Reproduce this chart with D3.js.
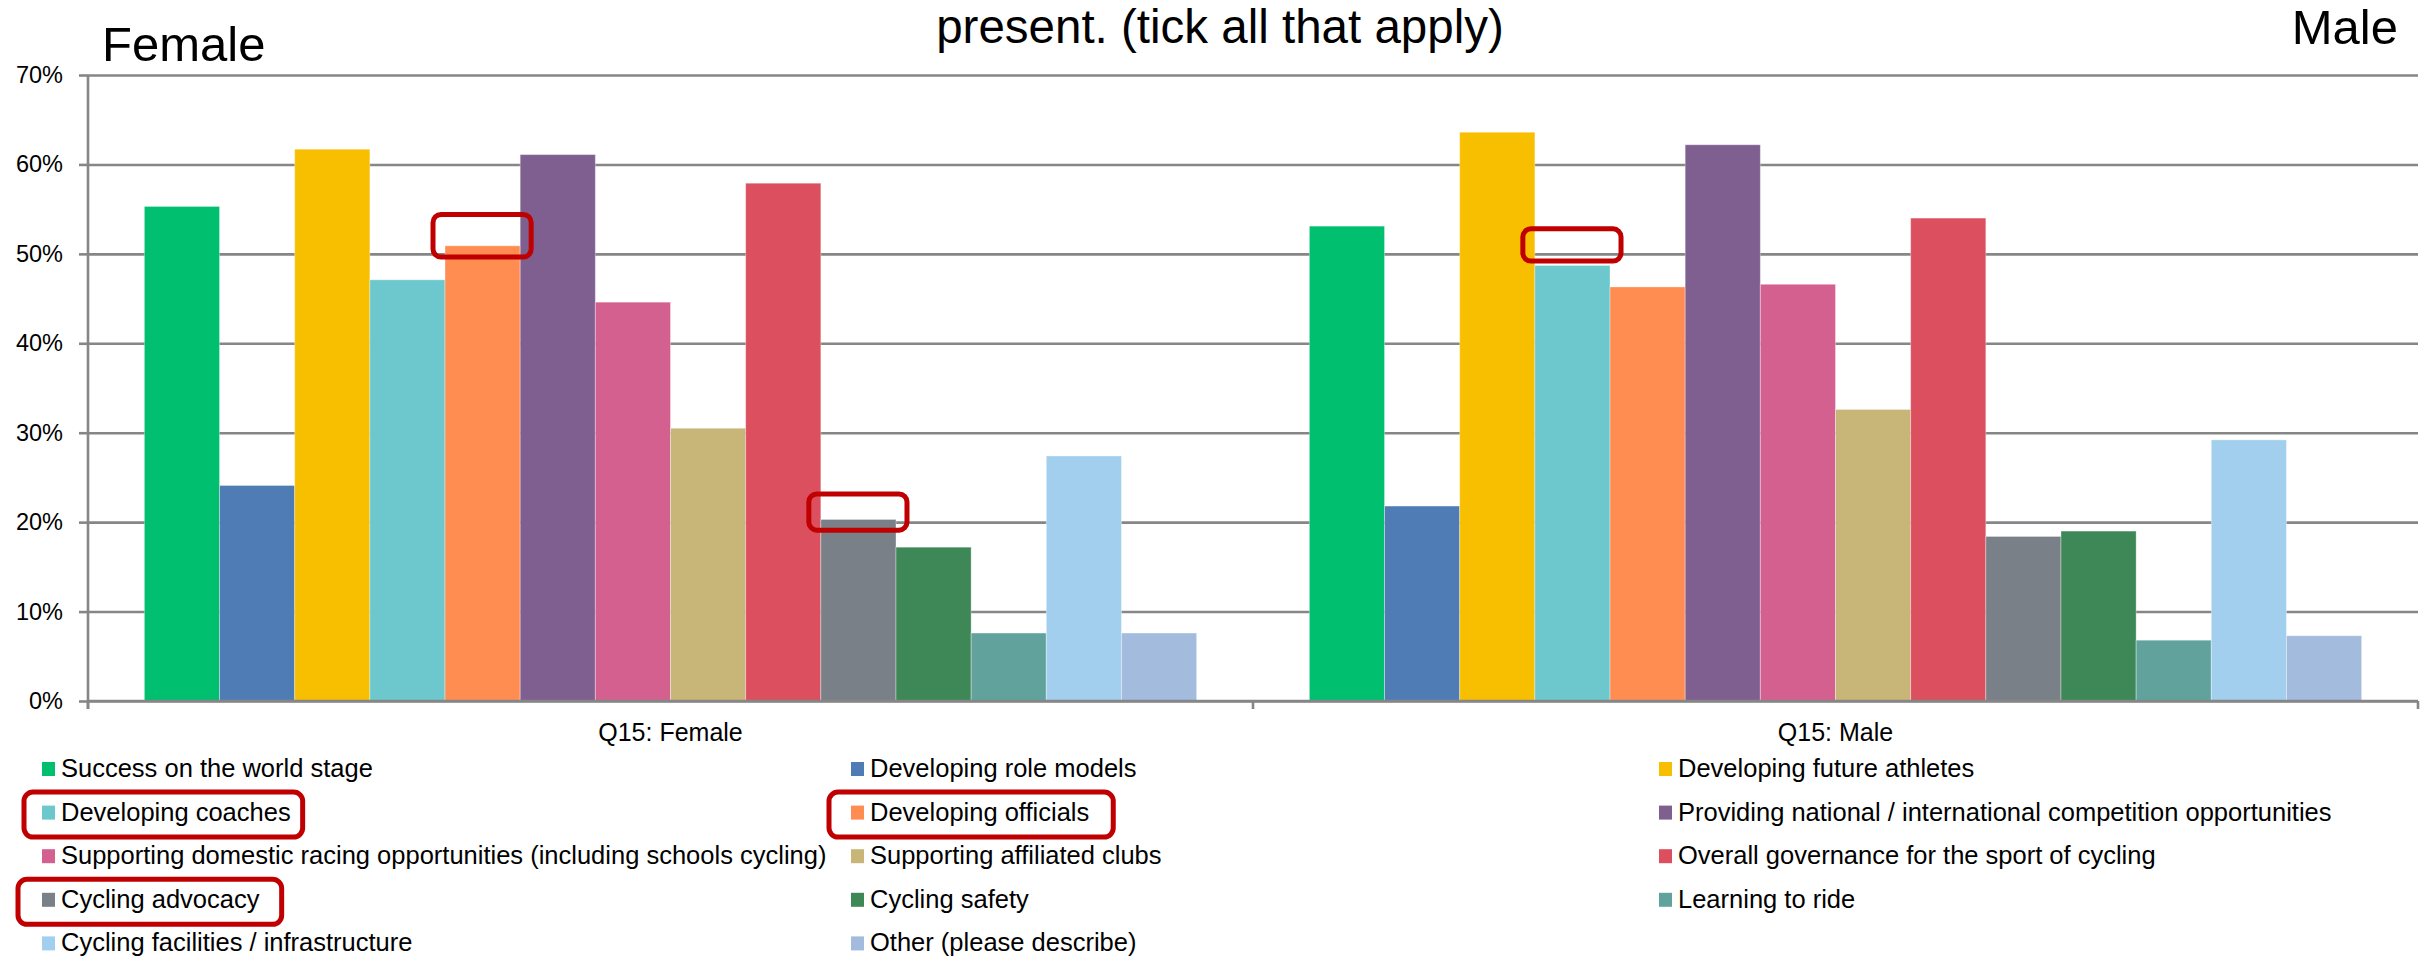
<!DOCTYPE html>
<html>
<head>
<meta charset="utf-8">
<script src="https://cdn.jsdelivr.net/npm/d3@7"></script>
<style>
  html, body { margin: 0; padding: 0; background: #ffffff; }
  svg { display: block; font-family: "Liberation Sans", Arial, sans-serif; }
</style>
</head>
<body>
<svg id="chart" width="2435" height="956"></svg>
<script>
// ---------------- data ----------------
const categories = ["Q15: Female", "Q15: Male"];
const seriesNames = [
  "Success on the world stage",
  "Developing role models",
  "Developing future athletes",
  "Developing coaches",
  "Developing officials",
  "Providing national / international competition opportunities",
  "Supporting domestic racing opportunities (including schools cycling)",
  "Supporting affiliated clubs",
  "Overall governance for the sport of cycling",
  "Cycling advocacy",
  "Cycling safety",
  "Learning to ride",
  "Cycling facilities / infrastructure",
  "Other (please describe)"
];
const femaleValues = [0.553, 0.241, 0.617, 0.471, 0.509, 0.611, 0.446, 0.305, 0.579, 0.203, 0.172, 0.076, 0.274, 0.076];
const maleValues   = [0.531, 0.218, 0.636, 0.487, 0.463, 0.622, 0.466, 0.326, 0.540, 0.184, 0.190, 0.068, 0.292, 0.073];
const seriesColors = ["#00BF6F", "#4F7CB5", "#F8BE00", "#6CC8CC", "#FF8C50", "#7E5F8F", "#D4608F",
                      "#C8B679", "#DC4F5E", "#7A8088", "#3E8756", "#61A39C", "#A2CFEE", "#A3BBDD"];
const yTicks = [0, 0.1, 0.2, 0.3, 0.4, 0.5, 0.6, 0.7];
const titleText = "present. (tick all that apply)";
const leftLabel = "Female";
const rightLabel = "Male";
// highlight annotations: [category index, series index, upper value, lower value]
const barHighlights = [[0, 4, 0.544, 0.4965], [0, 9, 0.2315, 0.191], [1, 3, 0.528, 0.492]];
// legend highlights: [series index, left pad, right pad]
const legendHighlights = [[3, 18, 12], [4, 22, 24], [9, 24, 22]];

const values = [femaleValues, maleValues];

// ---------------- layout ----------------
const svg = d3.select("#chart");
const plotLeft = 88, plotRight = 2418, plotTop = 75, plotBottom = 701;
const gridColor = "#868686";

const x0 = d3.scaleBand().domain(categories).range([plotLeft, plotRight]).paddingInner(0).paddingOuter(0);
const x1 = d3.scaleBand().domain(d3.range(seriesNames.length)).range([0, x0.bandwidth()])
  .paddingInner(0).paddingOuter(0.75);
const y = d3.scaleLinear().domain([0, 0.7]).range([plotBottom, plotTop]);

// gridlines
const grid = svg.append("g").attr("transform", `translate(${plotLeft},0)`)
  .call(d3.axisLeft(y).tickValues(yTicks).tickSize(-(plotRight - plotLeft)).tickFormat(""));
grid.select(".domain").remove();
grid.selectAll("line").attr("stroke", gridColor).attr("stroke-width", 2.6);

// bars
const groups = svg.append("g").selectAll("g").data(categories).join("g")
  .attr("transform", d => `translate(${x0(d)},0)`);
groups.selectAll("rect")
  .data((d, ci) => values[ci].map((v, si) => ({ v, si })))
  .join("rect")
  .attr("x", d => x1(d.si))
  .attr("width", x1.bandwidth())
  .attr("y", d => y(d.v))
  .attr("height", d => y(0) - y(d.v))
  .attr("fill", d => seriesColors[d.si])
  .attr("stroke", "rgba(255,255,255,0.35)")
  .attr("stroke-width", 1);

// y axis
const yAxis = svg.append("g").attr("transform", `translate(${plotLeft},0)`)
  .call(d3.axisLeft(y).tickValues(yTicks).tickSize(9).tickPadding(16).tickFormat(d3.format(".0%")));
yAxis.select(".domain").attr("stroke", gridColor).attr("stroke-width", 2.6)
  .attr("d", `M0,${plotTop}V${plotBottom + 8}`);
yAxis.selectAll(".tick line").attr("stroke", gridColor).attr("stroke-width", 2.6);
yAxis.selectAll(".tick text").attr("font-size", 23.5).attr("fill", "#000")
  .attr("font-family", "'Liberation Sans', Arial, sans-serif");

// x axis
const xBounds = categories.map(c => x0(c)).concat([x0.range()[1]]);
const xAxis = svg.append("g");
xAxis.append("line").attr("x1", plotLeft).attr("x2", plotRight).attr("y1", y(0)).attr("y2", y(0))
  .attr("stroke", gridColor).attr("stroke-width", 2.6);
xAxis.selectAll("line.tk").data(xBounds).join("line").attr("class", "tk")
  .attr("x1", d => d).attr("x2", d => d).attr("y1", y(0)).attr("y2", y(0) + 8)
  .attr("stroke", gridColor).attr("stroke-width", 2.6);
xAxis.selectAll("text").data(categories).join("text")
  .attr("x", d => x0(d) + x0.bandwidth() / 2).attr("y", 741)
  .attr("text-anchor", "middle").attr("font-size", 25).attr("fill", "#000").text(d => d);

// highlight boxes on bars
const red = "#C00000";
svg.append("g").selectAll("rect").data(barHighlights).join("rect")
  .attr("x", d => x0(categories[d[0]]) + x1(d[1]) - 12)
  .attr("width", x1.bandwidth() + 23)
  .attr("y", d => y(d[2]))
  .attr("height", d => y(d[3]) - y(d[2]))
  .attr("rx", 8).attr("ry", 8)
  .attr("fill", "none").attr("stroke", red).attr("stroke-width", 5);

// titles
svg.append("text").attr("x", 102).attr("y", 61).attr("font-size", 49).attr("fill", "#000").text(leftLabel);
svg.append("text").attr("x", 2398).attr("y", 44).attr("text-anchor", "end").attr("font-size", 49).attr("fill", "#000").text(rightLabel);
svg.append("text").attr("x", 1220).attr("y", 43).attr("text-anchor", "middle").attr("font-size", 47.5).attr("fill", "#000").text(titleText);

// legend
const legendCols = [42, 851, 1659];
const legendRow0 = 777, legendPitch = 43.6;
const legend = svg.append("g");
const items = legend.selectAll("g").data(seriesNames).join("g")
  .attr("transform", (d, i) => `translate(${legendCols[i % 3]},${legendRow0 + Math.floor(i / 3) * legendPitch})`);
items.append("rect").attr("x", 0).attr("y", -15).attr("width", 13).attr("height", 14)
  .attr("fill", (d, i) => seriesColors[i]);
items.append("text").attr("x", 19).attr("y", 0).attr("font-size", 25.5).attr("fill", "#000").text(d => d);

legendHighlights.forEach(([si, padL, padR]) => {
  const g = items.filter((d, i) => i === si);
  const bb = g.select("text").node().getBBox();
  g.append("rect").attr("x", -padL).attr("y", -28.5)
    .attr("width", bb.x + bb.width + padR + padL).attr("height", 45)
    .attr("rx", 9).attr("ry", 9)
    .attr("fill", "none").attr("stroke", red).attr("stroke-width", 5);
});
</script>
</body>
</html>
